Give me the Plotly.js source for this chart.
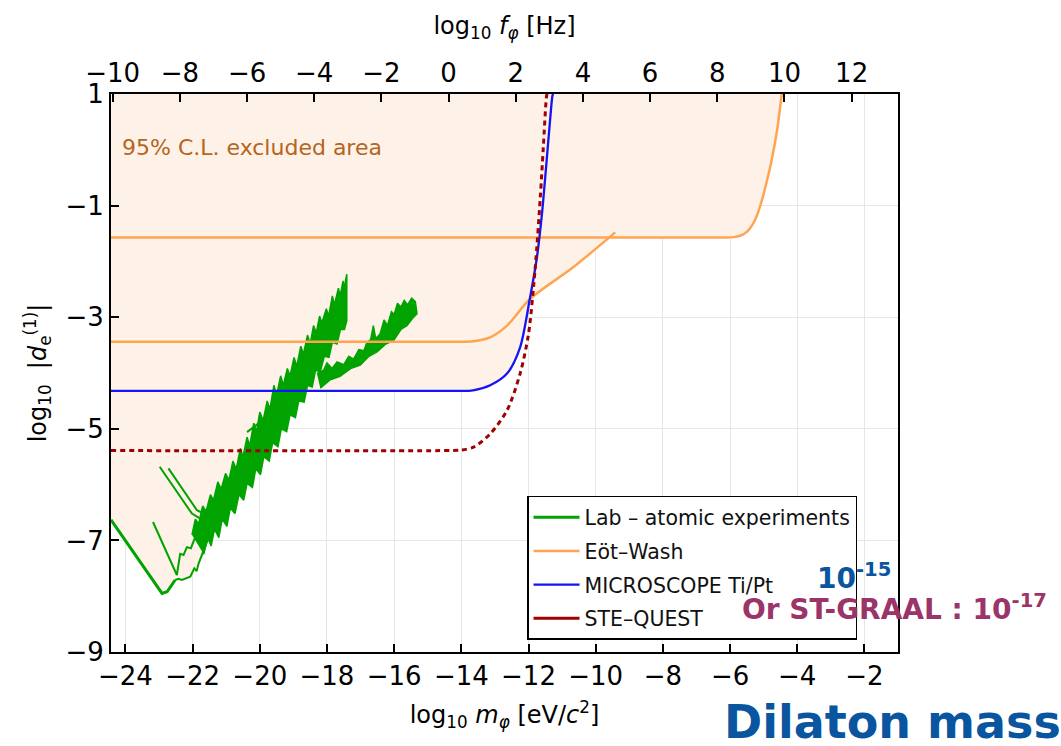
<!DOCTYPE html>
<html>
<head>
<meta charset="utf-8">
<script src="https://cdn.plot.ly/plotly-3.0.1.min.js"></script>
<style>html,body{margin:0;padding:0;background:#fff;}#chart{width:1061px;height:746px;}</style>
</head>
<body>
<div id="chart"></div>
<script>
// ---- data (log10 m_phi [eV/c^2], log10 |d_e^(1)|) ----
var exclX = [-24.43,-24.43,-22.91,-22.76,-22.52,-22.32,-22.07,-21.82,-21.67,-21.47,-21.18,-20.78,-20.38,-20.08,-19.79,-19.49,-19.19,-18.89,-18.70,-13.65,-13.14,-12.64,-12.25,-11.97,-10.66,-9.61,-5.90,-5.70,-5.50,-5.35,-5.20,-5.05,-4.90,-4.75,-4.60,-4.46];
var exclY = [1,-6.63,-7.95,-7.92,-7.71,-7.71,-7.65,-7.41,-7.18,-6.94,-6.70,-6.34,-5.98,-5.69,-5.45,-5.15,-4.85,-4.55,-4.32,-4.32,-4.22,-4.01,-3.54,-2.70,-2.10,-1.57,-1.565,-1.54,-1.47,-1.36,-1.18,-0.90,-0.55,-0.15,0.35,1];

var labVX = [-24.43,-22.91,-22.76,-22.52];
var labVY = [-6.63,-7.95,-7.92,-7.71];
var labAX = [-23.18,-22.47,-22.37,-22.27,-22.17,-22.05,-21.95,-21.85,-21.75];
var labAY = [-6.67,-7.62,-7.24,-7.26,-7.12,-7.14,-6.98,-6.96,-6.80];
var labBX = [-22.52,-22.42,-22.32,-22.07,-21.95,-21.88,-21.82,-21.67,-21.52,-21.33];
var labBY = [-7.71,-7.69,-7.71,-7.65,-7.50,-7.55,-7.41,-7.18,-6.94,-6.76];
var labCX = [-22.98,-22.02,-21.77];
var labCY = [-5.68,-6.52,-6.61];
var labDX = [-22.72,-21.87,-21.57];
var labDY = [-5.71,-6.46,-6.55];
var labEX = [-20.38,-19.79];
var labEY = [-5.06,-4.79];
var bandX = [-21.67,-21.55,-21.45,-21.35,-21.22,-21.12,-20.98,-20.88,-20.74,-20.62,-20.48,-20.38,-20.22,-20.12,-19.98,-19.88,-19.72,-19.62,-19.46,-19.36,-19.20,-19.10,-18.94,-18.84,-18.68,-18.58,-18.44,-18.34,-18.20,-18.08,-17.94,-17.84,-17.70,-17.60,-17.48,-17.41,
             -17.41,-17.50,-17.52,-17.61,-17.66,-17.78,-17.84,-17.95,-18.02,-18.15,-18.22,-18.32,-18.40,-18.50,-18.58,-18.70,-18.78,-18.90,-18.98,-19.10,-19.18,-19.30,-19.38,-19.50,-19.58,-19.70,-19.78,-19.90,-20.00,-20.10,-20.18,-20.30,-20.38,-20.50,-20.58,-20.70,-20.80,-20.92,-21.02,-21.15,-21.25,-21.38,-21.47,-21.60,-21.70,-21.82,-21.92,-22.02];
var bandY = [-7.25,-6.95,-7.10,-6.80,-6.95,-6.62,-6.75,-6.42,-6.52,-6.18,-6.28,-5.98,-6.05,-5.72,-5.82,-5.50,-5.58,-5.25,-5.32,-5.00,-5.05,-4.75,-4.80,-4.50,-4.52,-4.22,-4.25,-3.95,-3.98,-3.70,-3.72,-3.45,-3.48,-3.22,-3.22,-3.06,
             -2.23,-2.50,-2.35,-2.62,-2.48,-2.78,-2.62,-2.98,-2.85,-3.10,-2.98,-3.28,-3.15,-3.48,-3.32,-3.66,-3.52,-3.88,-3.72,-4.05,-3.92,-4.22,-4.05,-4.40,-4.22,-4.65,-4.50,-4.85,-4.70,-5.05,-4.90,-5.30,-5.15,-5.50,-5.35,-5.72,-5.58,-5.92,-5.80,-6.08,-5.95,-6.28,-6.18,-6.48,-6.38,-6.70,-6.62,-6.90];
var band2X = [-18.30,-18.10,-18.00,-17.85,-17.70,-17.50,-17.35,-17.21,-17.05,-16.90,-16.81,-16.70,-16.62,-16.55,-16.42,-16.30,-16.20,-16.08,-16.00,-15.90,-15.80,-15.70,-15.60,-15.48,-15.37,-15.32,
              -15.45,-15.62,-15.80,-16.02,-16.25,-16.51,-16.75,-17.01,-17.30,-17.61,-17.90,-18.20];
var band2Y = [-4.01,-3.95,-3.82,-3.92,-3.80,-3.85,-3.70,-3.75,-3.58,-3.60,-3.45,-3.40,-3.15,-3.38,-3.30,-3.05,-3.15,-2.90,-2.95,-2.75,-2.82,-2.70,-2.78,-2.66,-2.72,-2.94,
              -3.02,-3.15,-3.22,-3.42,-3.48,-3.62,-3.70,-3.86,-3.92,-4.06,-4.12,-4.27];

var eotAX = [-24.43,-6.20,-5.90,-5.70,-5.50,-5.35,-5.20,-5.05,-4.90,-4.75,-4.60,-4.46];
var eotAY = [-1.57,-1.57,-1.565,-1.54,-1.47,-1.36,-1.18,-0.90,-0.55,-0.15,0.35,1.0];
var eotBX = [-24.43,-14.2,-13.65,-13.14,-12.64,-11.95,-10.66,-9.42];
var eotBY = [-3.44,-3.44,-3.43,-3.36,-3.15,-2.67,-2.10,-1.48];
var micX = [-24.43,-14.2,-13.65,-13.14,-12.64,-12.25,-11.97,-11.75,-11.60,-11.47,-11.36,-11.29,-11.27];
var micY = [-4.32,-4.32,-4.31,-4.22,-4.01,-3.54,-2.70,-1.93,-1.15,-0.26,0.52,0.96,1.0];
var steX = [-24.43,-14.5,-14.0,-13.64,-13.14,-12.64,-12.25,-12.0,-11.8,-11.65,-11.56,-11.47,-11.45];
var steY = [-5.39,-5.39,-5.38,-5.33,-5.09,-4.67,-4.01,-3.30,-2.11,-0.86,0.04,0.93,1.0];

var xTicks = [-24,-22,-20,-18,-16,-14,-12,-10,-8,-6,-4,-2];
var fTicks = [-10,-8,-6,-4,-2,0,2,4,6,8,10,12];
var yTicks = [-9,-7,-5,-3,-1,1];
var names = ['Lab \u2013 atomic experiments','E\u00f6t\u2013Wash','MICROSCOPE Ti/Pt','STE\u2013QUEST'];

// ---- styles ----
var GREEN = '#00a300', ORANGE = '#ffa552', BLUE = '#1414f5', RED = '#a00000', FILLC = '#fef2e8';
var FONT = 'DejaVu Sans, Liberation Sans, sans-serif';

function gline(x, y, extra) {
  var t = {x: x, y: y, mode: 'lines', line: {color: GREEN, width: 2}, showlegend: false, hoverinfo: 'skip'};
  for (var k in (extra || {})) t[k] = extra[k];
  return t;
}

var traces = [
  {x: exclX, y: exclY, mode: 'lines', fill: 'toself', fillcolor: FILLC, line: {width: 0, color: FILLC}, showlegend: false, hoverinfo: 'skip'},
  {x: bandX, y: bandY, mode: 'lines', fill: 'toself', fillcolor: GREEN, line: {color: GREEN, width: 1.5}, showlegend: false, hoverinfo: 'skip'},
  {x: band2X, y: band2Y, mode: 'lines', fill: 'toself', fillcolor: GREEN, line: {color: GREEN, width: 1.5}, showlegend: false, hoverinfo: 'skip'},
  gline(labVX, labVY, {name: names[0], showlegend: true, legendgroup: 'g1', line: {color: GREEN, width: 3}}),
  gline(labAX, labAY), gline(labBX, labBY), gline(labCX, labCY), gline(labDX, labDY), gline(labEX, labEY),
  {x: eotBX, y: eotBY, mode: 'lines', line: {color: ORANGE, width: 2.5, shape: 'spline', smoothing: 0.8}, showlegend: false, hoverinfo: 'skip'},
  {x: eotAX, y: eotAY, mode: 'lines', name: names[1], legendgroup: 'g2', line: {color: ORANGE, width: 2.5, shape: 'spline', smoothing: 0.6}, hoverinfo: 'skip'},
  {x: micX, y: micY, mode: 'lines', name: names[2], legendgroup: 'g3', line: {color: BLUE, width: 2.3, shape: 'spline', smoothing: 0.8}, hoverinfo: 'skip'},
  {x: steX, y: steY, mode: 'lines', showlegend: false, line: {color: RED, width: 3, dash: '5px,4px', shape: 'spline', smoothing: 0.8}, hoverinfo: 'skip'},
  {x: [null], y: [null], mode: 'lines', name: names[3], legendgroup: 'g4', line: {color: RED, width: 3}, hoverinfo: 'skip'},
  {x: fTicks, y: fTicks.map(function(){return -9;}), xaxis: 'x2', mode: 'markers', marker: {opacity: 0}, showlegend: false, hoverinfo: 'skip'}
];

var axisCommon = {ticks: 'inside', ticklen: 8, tickwidth: 2, tickcolor: 'black', showline: true, linewidth: 2, linecolor: 'black', zeroline: false, tickfont: {size: 26, family: FONT, color: 'black'}};

function merge(a, b) { var o = {}; for (var k in a) o[k] = a[k]; for (var k2 in b) o[k2] = b[k2]; return o; }

var layout = {
  width: 1061, height: 746,
  margin: {l: 111, r: 163, t: 94, b: 94, pad: 0},
  paper_bgcolor: 'white', plot_bgcolor: 'white',
  font: {family: FONT, color: 'black', size: 22},
  xaxis: merge(axisCommon, {range: [-24.43, -1.0], tickvals: xTicks, showgrid: true, gridcolor: '#e6e6e6', gridwidth: 1,
    title: {text: 'log<sub>10</sub> <i>m</i><sub><i>\u03c6</i></sub> [eV/<i>c</i><sup>2</sup>]', font: {size: 24, family: FONT}, standoff: 16}}),
  xaxis2: merge(axisCommon, {overlaying: 'x', side: 'top', range: [-10.05, 13.38], tickvals: fTicks, showgrid: false,
    title: {text: 'log<sub>10</sub> <i>f</i><sub><i>\u03c6</i></sub> [Hz]', font: {size: 24, family: FONT}, standoff: 16}}),
  yaxis: merge(axisCommon, {range: [-9, 1], tickvals: yTicks, mirror: true, showgrid: true, gridcolor: '#e6e6e6', gridwidth: 1,
    title: {text: 'log<sub>10</sub>  |<i>d</i><sub>e</sub><sup>(1)</sup>|', font: {size: 24, family: FONT}, standoff: 12}}),
  legend: {x: 0.5286, y: 0.2796, xanchor: 'left', yanchor: 'top', bgcolor: 'white', bordercolor: 'black', borderwidth: 1.5,
    font: {size: 20.5, family: FONT, color: '#111'}, itemwidth: 46, traceorder: 'grouped', tracegroupgap: 4},
  annotations: [
    {xref: 'paper', yref: 'paper', x: 0.0114, y: 0.905, xanchor: 'left', yanchor: 'middle', showarrow: false,
     text: '95% C.L. excluded area', font: {size: 22, family: FONT, color: '#b5651d'}},
    {xref: 'paper', yref: 'paper', x: 0.8945, y: 0.136, xanchor: 'left', yanchor: 'middle', showarrow: false,
     text: '<b>10<sup>-15</sup></b>', font: {size: 28, family: FONT, color: '#0a55a0'}},
    {xref: 'paper', yref: 'paper', x: 0.799, y: 0.0806, xanchor: 'left', yanchor: 'middle', showarrow: false,
     text: '<b>Or ST-GRAAL : 10<sup>-17</sup></b>', font: {size: 28, family: FONT, color: '#9b3468'}},
    {xref: 'paper', yref: 'paper', x: 0.776, y: -0.1254, xanchor: 'left', yanchor: 'middle', showarrow: false,
     text: '<b>Dilaton mass</b>', font: {size: 46, family: FONT, color: '#0a55a0'}}
  ]
};

Plotly.newPlot('chart', traces, layout, {staticPlot: true, displayModeBar: false});
</script>
</body>
</html>
